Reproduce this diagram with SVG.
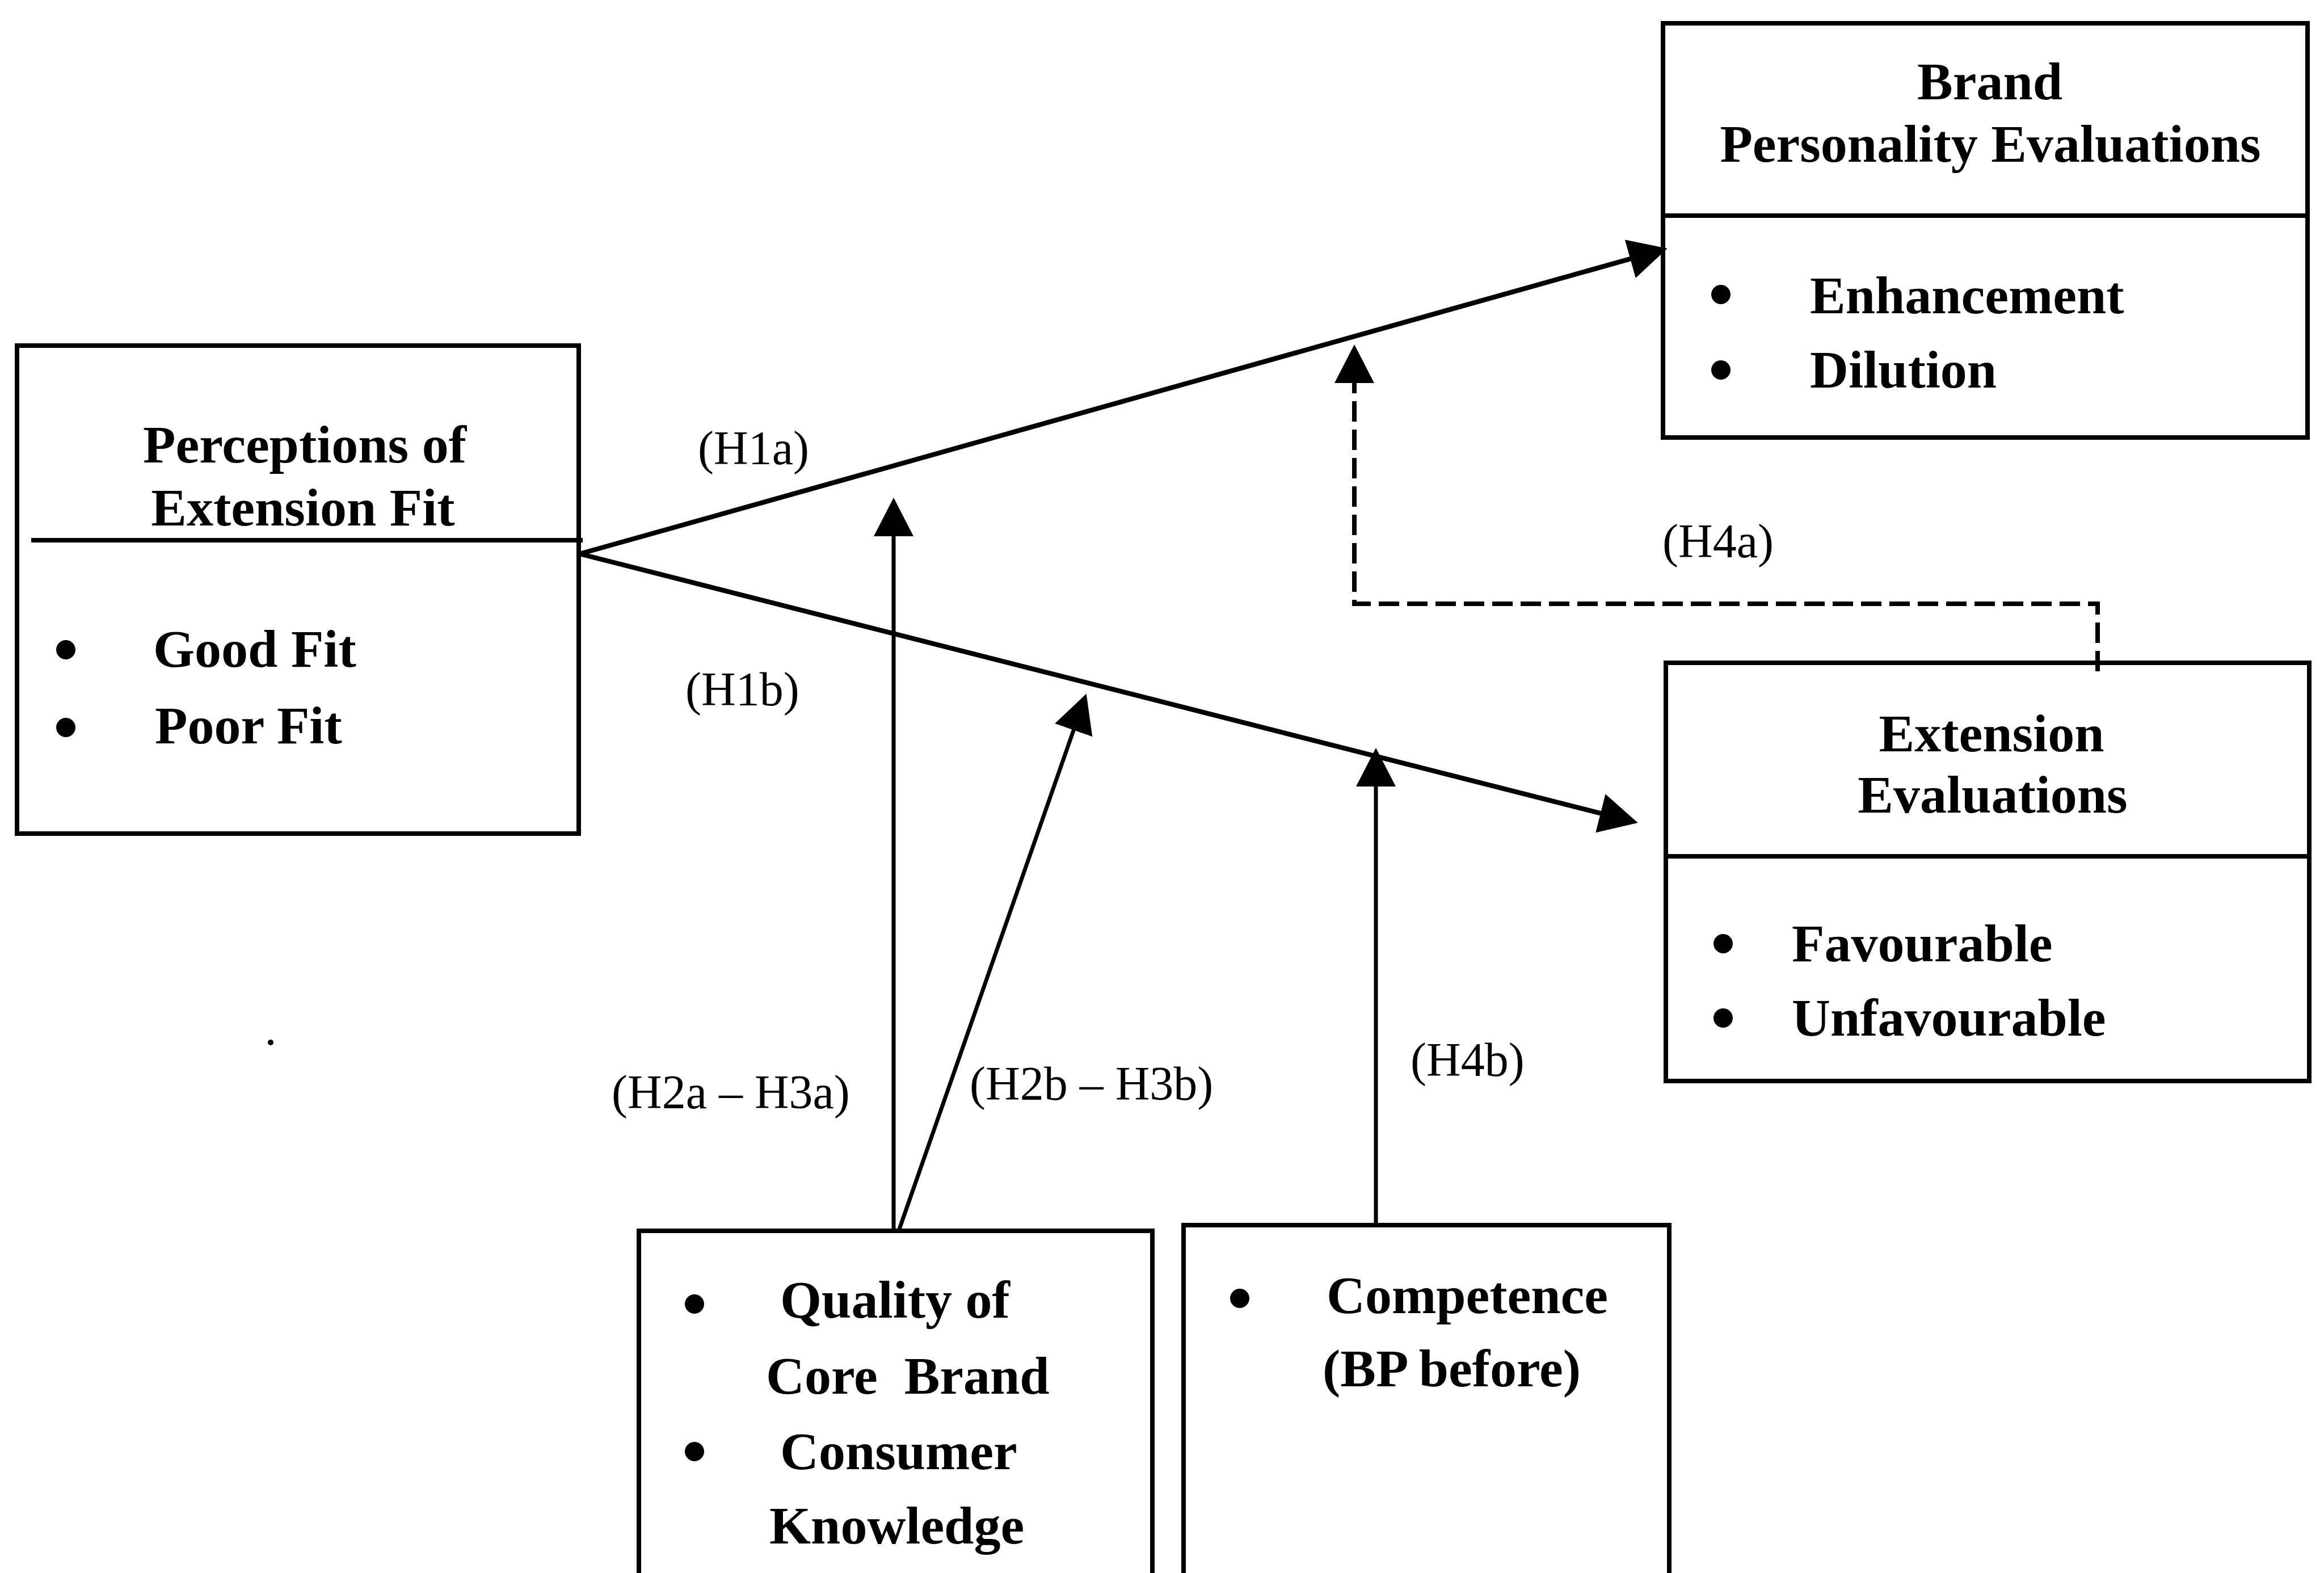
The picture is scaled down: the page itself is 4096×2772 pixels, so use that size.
<svg xmlns="http://www.w3.org/2000/svg" width="4096" height="2772" viewBox="0 0 4096 2772">
  <style>
    .box { fill: none; stroke: #000; stroke-width: 8; }
    .rule { stroke: #000; stroke-width: 8; fill: none; }
    .title { font-family: "Liberation Serif", "Times New Roman", serif; font-weight: bold; font-size: 94px; text-anchor: middle; fill: #000; }
    .item { font-family: "Liberation Serif", "Times New Roman", serif; font-weight: bold; font-size: 94px; fill: #000; }
    .lbl { font-family: "Liberation Serif", "Times New Roman", serif; font-size: 84px; fill: #000; }
    .dot { fill: #000; }
    .main { stroke: #000; stroke-width: 8.5; fill: none; }
    .mod { stroke: #000; stroke-width: 7; fill: none; }
    .dash { stroke: #000; stroke-width: 8; fill: none; stroke-dasharray: 36 14; }
  </style>
  <defs>
    <marker id="head" markerUnits="userSpaceOnUse" markerWidth="70" markerHeight="72" viewBox="0 0 70 72" refX="60" refY="36" orient="auto">
      <path d="M0,1 L68,36 L0,71 z" fill="#000"/>
    </marker>
  </defs>
  <rect width="4096" height="2772" fill="#fff"/>

  <!-- Left node: perceptions of fit -->
  <g id="fit">
    <rect class="box" x="30" y="609" width="990" height="860"/>
    <line class="rule" x1="55" y1="952" x2="1027" y2="952"/>
    <text class="title" x="537" y="815">Perceptions of</text>
    <text class="title" x="534" y="926">Extension Fit</text>
    <circle class="dot" cx="116" cy="1145" r="17"/>
    <circle class="dot" cx="116" cy="1282" r="17"/>
    <text class="item" x="270" y="1175">Good Fit</text>
    <text class="item" x="273" y="1310">Poor Fit</text>
  </g>

  <!-- Top right node: brand personality -->
  <g id="brand">
    <rect class="box" x="2931" y="41" width="1136" height="730"/>
    <line class="rule" x1="2931" y1="380" x2="4067" y2="380"/>
    <text class="title" x="3507" y="175">Brand</text>
    <text class="title" x="3508" y="285">Personality Evaluations</text>
    <circle class="dot" cx="3033" cy="519" r="17"/>
    <circle class="dot" cx="3033" cy="652" r="17"/>
    <text class="item" x="3190" y="552">Enhancement</text>
    <text class="item" x="3190" y="683">Dilution</text>
  </g>

  <!-- Right node: extension evaluations -->
  <g id="extension">
    <rect class="box" x="2936" y="1168" width="1134" height="737"/>
    <line class="rule" x1="2936" y1="1509" x2="4070" y2="1509"/>
    <text class="title" x="3510" y="1324">Extension</text>
    <text class="title" x="3512" y="1432">Evaluations</text>
    <circle class="dot" cx="3037" cy="1663" r="17"/>
    <circle class="dot" cx="3037" cy="1794" r="17"/>
    <text class="item" x="3158" y="1694">Favourable</text>
    <text class="item" x="3158" y="1825">Unfavourable</text>
  </g>

  <!-- Bottom node: core brand moderators -->
  <g id="core">
    <rect class="box" x="1126" y="2169" width="905" height="700"/>
    <circle class="dot" cx="1224" cy="2298" r="17"/>
    <circle class="dot" cx="1224" cy="2558" r="17"/>
    <text class="item" x="1375" y="2322">Quality of</text>
    <text class="item" x="1350" y="2456" style="white-space:pre">Core  Brand</text>
    <text class="item" x="1375" y="2589">Consumer</text>
    <text class="item" x="1356" y="2720">Knowledge</text>
  </g>

  <!-- Bottom node: competence -->
  <g id="competence">
    <rect class="box" x="2086" y="2159" width="856" height="710"/>
    <circle class="dot" cx="2185" cy="2288" r="17"/>
    <text class="item" x="2338" y="2314">Competence</text>
    <text class="item" x="2331" y="2443">(BP before)</text>
  </g>

  <!-- Connectors and their labels -->
  <g id="connectors">
    <line class="main" x1="1022" y1="976" x2="2931" y2="440" marker-end="url(#head)"/>
    <line class="main" x1="1022" y1="976" x2="2879" y2="1448" marker-end="url(#head)"/>
    <line class="mod" x1="1575" y1="2169" x2="1575" y2="885" marker-end="url(#head)"/>
    <line class="mod" x1="1585" y1="2166" x2="1912" y2="1230" marker-end="url(#head)"/>
    <line class="mod" x1="2425" y1="2159" x2="2425" y2="1326" marker-end="url(#head)"/>
    <path class="dash" d="M3697,1183 V1064 H2387 V615" marker-end="url(#head)"/>
    <text class="lbl" x="1230" y="818">(H1a)</text>
    <text class="lbl" x="1208" y="1243">(H1b)</text>
    <text class="lbl" x="2930" y="982">(H4a)</text>
    <text class="lbl" x="1078" y="1953">(H2a – H3a)</text>
    <text class="lbl" x="1709" y="1938">(H2b – H3b)</text>
    <text class="lbl" x="2486" y="1896">(H4b)</text>
  </g>

  <circle class="dot" cx="477" cy="1837" r="5"/>
</svg>
